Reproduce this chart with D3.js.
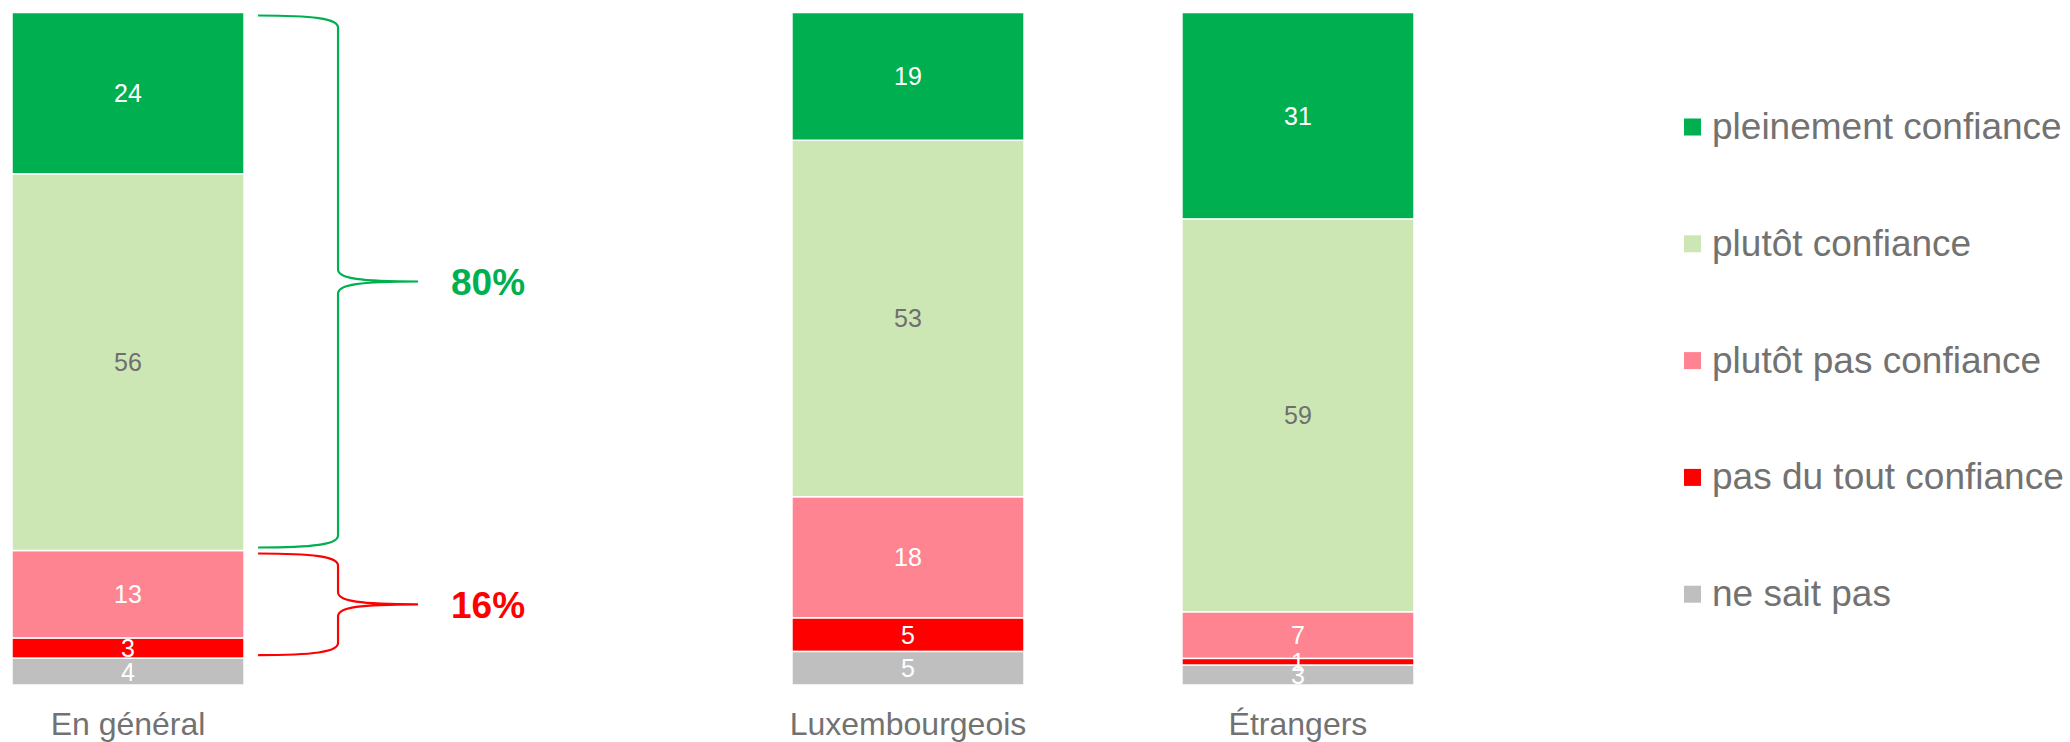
<!DOCTYPE html>
<html>
<head>
<meta charset="utf-8">
<script src="https://cdn.jsdelivr.net/npm/d3@7"></script>
<style>
    body { margin: 0; background: #fff; }
    svg { display: block; font-family: "Liberation Sans", Arial, sans-serif; }
</style>
</head>
<body>
<div id="chart"></div>
<script>
// Data (the empty category keeps the gap after "En général")
const categories = ["En général", "", "Luxembourgeois", "Étrangers"]
const series = ["pleinement confiance", "plutôt confiance", "plutôt pas confiance", "pas du tout confiance", "ne sait pas"]
const pleinement = [24, null, 19, 31]
const plutot = [56, null, 53, 59]
const plutotPas = [13, null, 18, 7]
const pasDuTout = [3, null, 5, 1]
const neSaitPas = [4, null, 5, 3]

const colors = ["#00B050", "#CDE7B4", "#FF8491", "#FF0000", "#BFBFBF"]
const labelColors = ["#ffffff", "#6f6f6f", "#ffffff", "#ffffff", "#ffffff"]
const textGrey = "#727272"

function drawChart(container) {
    const WIDTH = 2070
    const HEIGHT = 742

    // Build rows from the arrays, skipping the blank spacer category
    const values = [pleinement, plutot, plutotPas, pasDuTout, neSaitPas]
    const rows = categories.map((c, i) => {
        const row = { cat: c }
        series.forEach((s, j) => row[s] = values[j][i])
        return row
    }).filter(r => r.cat !== "")

    const color = d3.scaleOrdinal().domain(series).range(colors)
    const labelColor = d3.scaleOrdinal().domain(series).range(labelColors)

    const x = d3.scaleBand()
        .domain(categories)
        .range([12, 1414])
        .paddingInner(0.405)
        .paddingOuter(0)

    const y = d3.scaleLinear()
        .domain([0, 1])
        .range([685, 12.5])

    // 100% stack, bottom segment is "ne sait pas"
    const stack = d3.stack()
        .keys(series.slice().reverse())
        .offset(d3.stackOffsetExpand)
    const layers = stack(rows)
    const segments = layers.flatMap(l => l.map(p => ({ key: l.key, p: p })))

    let svg = d3.select(container).append("svg")
        .attr("width", WIDTH)
        .attr("height", HEIGHT)

    // bar segments
    svg.append("g")
        .selectAll("rect")
        .data(segments)
        .enter()
        .append("rect")
            .attr("x", d => x(d.p.data.cat))
            .attr("y", d => y(d.p[1]))
            .attr("width", x.bandwidth())
            .attr("height", d => y(d.p[0]) - y(d.p[1]))
            .attr("fill", d => color(d.key))
            .attr("stroke", "#fff")
            .attr("stroke-width", 1.5)

    // value labels, drawn over all segments
    svg.append("g")
        .selectAll("text")
        .data(segments)
        .enter()
        .append("text")
            .attr("x", d => x(d.p.data.cat) + x.bandwidth() / 2)
            .attr("y", d => (y(d.p[0]) + y(d.p[1])) / 2)
            .attr("dy", "0.36em")
            .attr("text-anchor", "middle")
            .attr("font-size", 25)
            .attr("fill", d => labelColor(d.key))
            .text(d => d.p.data[d.key])

    // Category labels
    const axis = svg.append("g")
        .attr("transform", `translate(0,${y(0)})`)
        .call(d3.axisBottom(x).tickSize(0).tickPadding(27))
    axis.select(".domain").remove()
    axis.selectAll("text")
        .attr("font-size", 32)
        .attr("font-family", "Liberation Sans, Arial, sans-serif")
        .attr("fill", textGrey)

    // Braces with totals next to the first bar
    const byKey = {}
    layers.forEach(l => byKey[l.key] = l[0])
    const xEnd = x(categories[0]) + x.bandwidth()
    const x0 = xEnd + 14, xm = xEnd + 94, x1 = xEnd + 174

    function brace(yTop, yBot) {
        const yMid = (yTop + yBot) / 2
        const c = 12
        return `M${x0},${yTop} C${xm - 25},${yTop} ${xm},${yTop + 3} ${xm},${yTop + c}` +
            ` L${xm},${yMid - c} C${xm},${yMid - 3} ${xm + 22},${yMid} ${x1},${yMid}` +
            ` M${x1},${yMid} C${xm + 22},${yMid} ${xm},${yMid + 3} ${xm},${yMid + c}` +
            ` L${xm},${yBot - c} C${xm},${yBot - 3} ${xm - 25},${yBot} ${x0},${yBot}`
    }

    const groups = [
        { keys: ["pleinement confiance", "plutôt confiance"], color: "#00B050" },
        { keys: ["plutôt pas confiance", "pas du tout confiance"], color: "#FF0000" }
    ]
    groups.forEach(g => {
        const top = d3.max(g.keys, k => byKey[k][1])
        const bot = d3.min(g.keys, k => byKey[k][0])
        const yTop = y(top) + 3
        const yBot = y(bot) - 3
        const total = d3.sum(g.keys, k => rows[0][k])
        svg.append("path")
            .attr("d", brace(yTop, yBot))
            .attr("fill", "none")
            .attr("stroke", g.color)
            .attr("stroke-width", 2.2)
        svg.append("text")
            .attr("x", xEnd + 207)
            .attr("y", (yTop + yBot) / 2)
            .attr("dy", "0.36em")
            .attr("font-size", 37)
            .attr("font-weight", "bold")
            .attr("fill", g.color)
            .text(total + "%")
    })

    // Legend
    const legend = svg.selectAll("g.legend")
        .data(series)
        .enter()
        .append("g")
            .attr("class", "legend")
            .attr("transform", (d, i) => `translate(1684,${127 + i * 116.8})`)
    legend.append("rect")
        .attr("x", 0)
        .attr("y", -8.5)
        .attr("width", 17)
        .attr("height", 17)
        .attr("fill", d => color(d))
    legend.append("text")
        .attr("x", 28)
        .attr("y", 12)
        .attr("font-size", 37)
        .attr("fill", textGrey)
        .text(d => d)
}

drawChart("#chart")
</script>
</body>
</html>
